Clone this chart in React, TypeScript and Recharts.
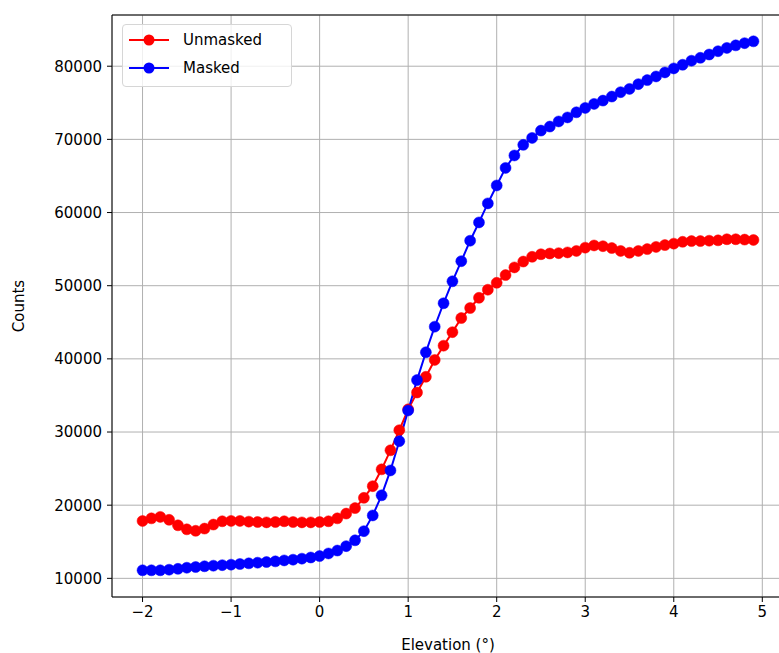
import React from "react";
import {
  CartesianGrid,
  Legend,
  Line,
  LineChart,
  ReferenceLine,
  XAxis,
  YAxis,
} from "recharts";

const elevation = [
  -2.0, -1.9, -1.8, -1.7, -1.6, -1.5, -1.4, -1.3, -1.2, -1.1,
  -1.0, -0.9, -0.8, -0.7, -0.6, -0.5, -0.4, -0.3, -0.2, -0.1,
  0.0, 0.1, 0.2, 0.3, 0.4, 0.5, 0.6, 0.7, 0.8, 0.9,
  1.0, 1.1, 1.2, 1.3, 1.4, 1.5, 1.6, 1.7, 1.8, 1.9,
  2.0, 2.1, 2.2, 2.3, 2.4, 2.5, 2.6, 2.7, 2.8, 2.9,
  3.0, 3.1, 3.2, 3.3, 3.4, 3.5, 3.6, 3.7, 3.8, 3.9,
  4.0, 4.1, 4.2, 4.3, 4.4, 4.5, 4.6, 4.7, 4.8, 4.9,
];

const unmasked = [
  17840, 18200, 18400, 18000, 17250, 16700, 16500, 16800, 17350, 17800,
  17850, 17850, 17750, 17700, 17650, 17700, 17800, 17700, 17650, 17650,
  17700, 17800, 18200, 18850, 19600, 21000, 22600, 24900, 27500, 30250,
  33100, 35400, 37550, 39850, 41800, 43650, 45580, 46950, 48350, 49450,
  50400, 51450, 52500, 53300, 53950, 54300, 54400, 54450, 54550, 54750,
  55200, 55500, 55400, 55150, 54750, 54500, 54750, 55000, 55300, 55550,
  55750, 56000, 56100, 56100, 56150, 56200, 56350, 56350, 56300, 56250,
];

const masked = [
  11100, 11100, 11100, 11180, 11300, 11450, 11550, 11650, 11730, 11800,
  11870, 11960, 12050, 12140, 12230, 12320, 12450, 12550, 12690, 12850,
  13050, 13400, 13800, 14400, 15200, 16450, 18600, 21350, 24750, 28750,
  32950, 37100, 40900, 44400, 47600, 50600, 53350, 56150, 58650, 61250,
  63700, 66100, 67800, 69250, 70200, 71200, 71750, 72450, 73000, 73700,
  74300, 74850, 75300, 75850, 76450, 76900, 77550, 78100, 78600, 79150,
  79700, 80200, 80750, 81150, 81600, 82050, 82500, 82850, 83150, 83400,
];

const xTicks = [-2, -1, 0, 1, 2, 3, 4, 5];
const yTicks = [10000, 20000, 30000, 40000, 50000, 60000, 70000, 80000];

const X_DOMAIN: [number, number] = [-2.345, 5.245];
const Y_DOMAIN: [number, number] = [7450, 87000];

const data = elevation.map((e, i) => ({
  elevation: e,
  unmasked: unmasked[i],
  masked: masked[i],
}));

const FONT = "'DejaVu Sans', sans-serif";
const FS = 15;
const tickStyle = { fontFamily: FONT, fontSize: FS, fill: "#000" };

const fmtX = (v: number) => (v < 0 ? `\u2212${Math.abs(v)}` : `${v}`);

const legendItems = [
  { label: "Unmasked", color: "#ff0000" },
  { label: "Masked", color: "#0000ff" },
];

const MplLegend = () => (
  <div
    style={{
      position: "absolute",
      left: 122,
      top: 24,
      width: 170,
      height: 63,
      boxSizing: "border-box",
      border: "1px solid #d6d6d6",
      borderRadius: 4,
      background: "rgba(255,255,255,0.8)",
      fontFamily: FONT,
      fontSize: FS,
      color: "#000",
    }}
  >
    {legendItems.map((item, i) => (
      <div
        key={item.label}
        style={{ position: "absolute", left: 0, top: 6 + i * 28, height: 18, width: "100%" }}
      >
        <svg width={50} height={18} style={{ position: "absolute", left: 4, top: 0 }}>
          <line x1={2} y1={9} x2={42} y2={9} stroke={item.color} strokeWidth={2} />
          <circle cx={22} cy={9} r={5.5} fill={item.color} />
        </svg>
        <span style={{ position: "absolute", left: 60, top: 0, lineHeight: "18px" }}>
          {item.label}
        </span>
      </div>
    ))}
  </div>
);

export default function App() {
  return (
    <div
      style={{
        position: "absolute",
        left: 0,
        top: 0,
        width: 779,
        height: 653,
        overflow: "hidden",
        background: "#fff",
      }}
    >
      <LineChart
        width={790}
        height={653}
        data={data}
        margin={{ top: 15, right: 6, bottom: 0, left: 0 }}
      >
        <CartesianGrid stroke="#b0b0b0" strokeWidth={1} />
        <XAxis
          dataKey="elevation"
          type="number"
          domain={X_DOMAIN}
          ticks={xTicks}
          tickFormatter={fmtX}
          tick={tickStyle}
          tickSize={5}
          tickMargin={4}
          height={56}
          stroke="#000"
          allowDataOverflow
          label={{
            value: "Elevation (\u00b0)",
            position: "insideBottom",
            offset: 3,
            style: { fontFamily: FONT, fontSize: FS, fill: "#000" },
          }}
        />
        <YAxis
          type="number"
          domain={Y_DOMAIN}
          ticks={yTicks}
          tick={tickStyle}
          tickSize={5}
          tickMargin={5}
          width={112}
          stroke="#000"
          allowDataOverflow
          label={{
            value: "Counts",
            angle: -90,
            position: "insideLeft",
            offset: 19,
            style: { fontFamily: FONT, fontSize: FS, fill: "#000", textAnchor: "middle" },
          }}
        />
        <ReferenceLine y={Y_DOMAIN[1]} stroke="#000" strokeWidth={1} />
        <Legend content={() => <MplLegend />} wrapperStyle={{ left: 0, top: 0 }} />
        <Line
          type="linear"
          dataKey="unmasked"
          name="Unmasked"
          stroke="#ff0000"
          strokeWidth={2}
          dot={{ r: 5.5, fill: "#ff0000", stroke: "#ff0000", strokeWidth: 0.5 }}
          activeDot={false}
          isAnimationActive={false}
        />
        <Line
          type="linear"
          dataKey="masked"
          name="Masked"
          stroke="#0000ff"
          strokeWidth={2}
          dot={{ r: 5.5, fill: "#0000ff", stroke: "#0000ff", strokeWidth: 0.5 }}
          activeDot={false}
          isAnimationActive={false}
        />
      </LineChart>
    </div>
  );
}
